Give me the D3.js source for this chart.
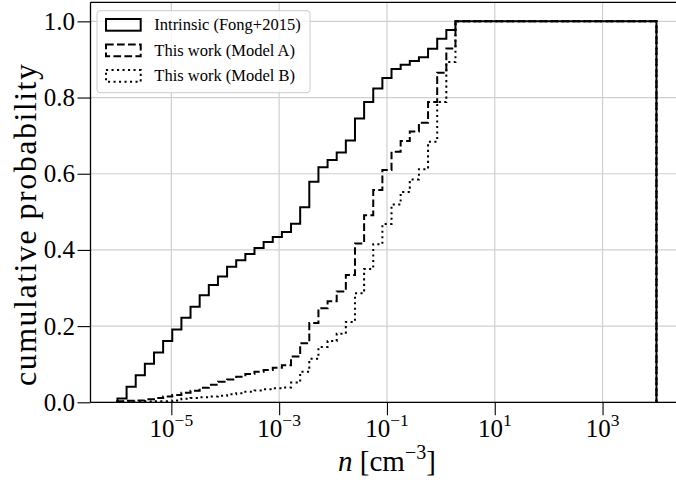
<!DOCTYPE html>
<html><head><meta charset="utf-8">
<script src="https://cdn.jsdelivr.net/npm/d3@7"></script>
<style>
html,body{margin:0;padding:0;background:#fff;}
svg{display:block;}
text{font-family:"Liberation Serif","Times New Roman",serif;fill:#000;}
</style></head>
<body>
<svg id="chart" width="676" height="482"></svg>
<script>
// histogram binning (log-spaced, as in the original)
const binMinExp = -6, binMaxExp = 4, nBins = 59;

// cumulative probability per bin
const intrinsic = [0.010,0.041,0.071,0.101,0.131,0.161,0.191,0.222,0.251,0.281,
  0.308,0.330,0.356,0.373,0.389,0.405,0.421,0.434,0.447,0.469,
  0.512,0.579,0.617,0.636,0.656,0.687,0.745,0.788,0.824,0.851,
  0.875,0.886,0.896,0.906,0.928,0.954,0.977,1,1,1,
  1,1,1,1,1,1,1,1,1,1,
  1,1,1,1,1,1,1,1,1];
const modelA = [0.003,0.004,0.005,0.008,0.011,0.015,0.019,0.025,0.030,0.038,
  0.046,0.054,0.060,0.067,0.074,0.080,0.085,0.091,0.097,0.120,
  0.155,0.208,0.247,0.265,0.291,0.334,0.417,0.491,0.557,0.610,
  0.658,0.686,0.711,0.734,0.788,0.865,0.929,1,1,1,
  1,1,1,1,1,1,1,1,1,1,
  1,1,1,1,1,1,1,1,1];
const modelB = [0.002,0.002,0.002,0.002,0.003,0.003,0.005,0.009,0.011,0.013,
  0.015,0.017,0.021,0.024,0.028,0.031,0.034,0.037,0.039,0.052,
  0.080,0.114,0.145,0.161,0.180,0.211,0.286,0.350,0.415,0.468,
  0.519,0.552,0.585,0.612,0.684,0.788,0.893,1,1,1,
  1,1,1,1,1,1,1,1,1,1,
  1,1,1,1,1,1,1,1,1];

const seriesNames = ["Intrinsic (Fong+2015)", "This work (Model A)", "This work (Model B)"];
const seriesDash = [null, "7.7,3.3", "2.1,3.4"];
const xTickExps = [-5, -3, -1, 1, 3];
const yTicks = [0, 0.2, 0.4, 0.6, 0.8, 1.0];

const edges = d3.range(nBins + 1).map(k => Math.pow(10, binMinExp + k * (binMaxExp - binMinExp) / nBins));

const L = 90.5, R = 683.4, T = 2.3, B = 402.3;
const x = d3.scaleLog().domain([Math.pow(10,-6.5), Math.pow(10,4.5)]).range([L, R]);
const y = d3.scaleLinear().domain([0, 1.05]).range([B, T]);

const svg = d3.select("#chart");

// grid
const grid = svg.append("g");
grid.selectAll("line.gx").data(xTickExps).enter().append("line")
  .attr("x1", d => x(Math.pow(10,d))).attr("x2", d => x(Math.pow(10,d)))
  .attr("y1", T).attr("y2", B).attr("stroke", "#cfcfcf").attr("stroke-width", 1.2);
grid.selectAll("line.gy").data(yTicks).enter().append("line")
  .attr("x1", L).attr("x2", R).attr("y1", d => y(d)).attr("y2", d => y(d))
  .attr("stroke", "#cfcfcf").attr("stroke-width", 1.2);

// step paths
function stepPoints(vals) {
  const pts = [[edges[0], 0]];
  vals.forEach((v, i) => { pts.push([edges[i], v]); pts.push([edges[i+1], v]); });
  pts.push([edges[nBins], 0]);
  return pts;
}
const line = d3.line().x(d => x(d[0])).y(d => y(d[1]));
[intrinsic, modelA, modelB].forEach((vals, i) => {
  const p = svg.append("path").attr("d", line(stepPoints(vals)))
    .attr("fill", "none").attr("stroke", "#000").attr("stroke-width", 2)
    .attr("stroke-linejoin", "miter");
  if (seriesDash[i]) p.attr("stroke-dasharray", seriesDash[i]);
});

// axes ticks
const xAxis = d3.axisBottom(x).tickValues(xTickExps.map(e => Math.pow(10,e)))
  .tickSize(13).tickSizeOuter(0).tickFormat(() => "");
const gx = svg.append("g").attr("transform", `translate(0,${B})`).call(xAxis);
gx.select(".domain").remove();
gx.selectAll(".tick line").attr("stroke", "#000").attr("stroke-width", 1.1);

const yAxis = d3.axisLeft(y).tickValues(yTicks).tickSize(13).tickSizeOuter(0).tickFormat(() => "");
const gy = svg.append("g").attr("transform", `translate(${L},0)`).call(yAxis);
gy.select(".domain").remove();
gy.selectAll(".tick line").attr("stroke", "#000").attr("stroke-width", 1.1);

// spines
svg.append("line").attr("x1", L).attr("x2", L).attr("y1", T).attr("y2", B).attr("stroke", "#000").attr("stroke-width", 1.3);
svg.append("line").attr("x1", L).attr("x2", R).attr("y1", B).attr("y2", B).attr("stroke", "#000").attr("stroke-width", 1.3);
svg.append("line").attr("x1", L).attr("x2", R).attr("y1", T).attr("y2", T).attr("stroke", "#000").attr("stroke-width", 1.3);
svg.append("line").attr("x1", R).attr("x2", R).attr("y1", T).attr("y2", B).attr("stroke", "#000").attr("stroke-width", 1.3);

// y tick labels
svg.selectAll("text.yt").data(yTicks).enter().append("text")
  .attr("x", 75).attr("y", d => y(d) + 8.5).attr("text-anchor", "end")
  .attr("font-size", 25).text(d => d.toFixed(1));

// x tick labels
xTickExps.forEach(e => {
  const t = svg.append("text").attr("x", x(Math.pow(10,e))).attr("y", 437)
    .attr("text-anchor", "middle").attr("font-size", 25);
  t.append("tspan").text("10");
  t.append("tspan").attr("font-size", 17.5).attr("dy", -11).text(e < 0 ? "\u2212" + Math.abs(e) : String(e));
});

// axis labels
const xl = svg.append("text").attr("x", (L + R) / 2).attr("y", 471).attr("text-anchor", "middle").attr("font-size", 29);
xl.append("tspan").attr("font-style", "italic").text("n");
xl.append("tspan").text(" [cm");
xl.append("tspan").attr("font-size", 20).attr("dy", -12).text("\u22123");
xl.append("tspan").attr("dy", 12).text("]");

svg.append("text").attr("transform", "translate(36,225) rotate(-90)")
  .attr("text-anchor", "middle").attr("font-size", 32)
  .attr("textLength", 322).attr("lengthAdjust", "spacing")
  .text("cumulative probability");

// legend
const lg = svg.append("g");
lg.append("rect").attr("x", 97).attr("y", 10.7).attr("width", 213).attr("height", 82)
  .attr("rx", 3).attr("fill", "#fff").attr("fill-opacity", 0.8)
  .attr("stroke", "#cccccc").attr("stroke-width", 1);
seriesNames.forEach((name, i) => {
  const cy = 24.8 + i * 25.5;
  const r = lg.append("rect").attr("x", 106).attr("y", cy - 5.8).attr("width", 34.7).attr("height", 11.7)
    .attr("fill", "none").attr("stroke", "#000").attr("stroke-width", 2);
  if (seriesDash[i]) r.attr("stroke-dasharray", seriesDash[i]);
  lg.append("text").attr("x", 154.3).attr("y", cy + 5.5).attr("font-size", 16.5).text(name);
});
</script>
</body></html>
